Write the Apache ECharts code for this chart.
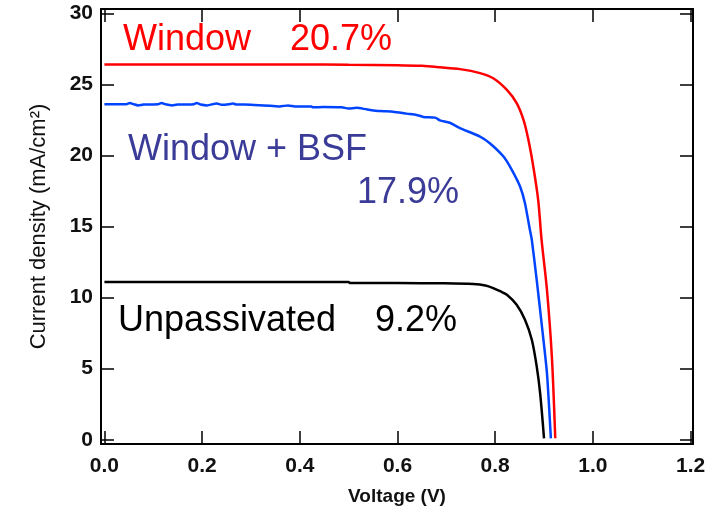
<!DOCTYPE html>
<html>
<head>
<meta charset="utf-8">
<script src="https://cdn.jsdelivr.net/npm/echarts@6/dist/echarts.min.js"></script>
<style>
html,body{margin:0;padding:0;background:#fff;}
#chart{width:721px;height:519px;}
</style>
</head>
<body>
<div id="chart"></div>
<script>
// ---- data ----
const xTicks = [0.0, 0.2, 0.4, 0.6, 0.8, 1.0, 1.2];
const yTicks = [0, 5, 10, 15, 20, 25, 30];

const vWindow = [0, 0.1, 0.2, 0.3, 0.4, 0.5, 0.6, 0.65, 0.687, 0.728, 0.769, 0.796, 0.824, 0.844, 0.858, 0.868, 0.878, 0.888, 0.895, 0.906, 0.916, 0.923];
const jWindow = [26.4, 26.4, 26.4, 26.4, 26.4, 26.38, 26.35, 26.3, 26.2, 26.07, 25.79, 25.43, 24.61, 23.68, 22.5, 21.1, 19.22, 16.88, 14.06, 10.55, 5.86, 0.1];

const vBSF = [0, 0.045, 0.052, 0.060, 0.069, 0.08, 0.11, 0.117, 0.125, 0.138, 0.15, 0.17, 0.183, 0.189, 0.197, 0.21, 0.23, 0.24, 0.255, 0.263, 0.27, 0.3, 0.339, 0.359, 0.376, 0.39, 0.424, 0.427, 0.448, 0.486, 0.5, 0.516, 0.537, 0.564, 0.591, 0.619, 0.639, 0.653, 0.677, 0.687, 0.707, 0.728, 0.769, 0.789, 0.817, 0.834, 0.851, 0.861, 0.871, 0.875, 0.885, 0.895, 0.906, 0.914];
const jBSF = [23.6, 23.6, 23.68, 23.6, 23.52, 23.58, 23.6, 23.68, 23.6, 23.52, 23.58, 23.58, 23.6, 23.68, 23.58, 23.52, 23.66, 23.56, 23.6, 23.65, 23.58, 23.57, 23.5, 23.45, 23.52, 23.45, 23.44, 23.38, 23.41, 23.38, 23.3, 23.35, 23.24, 23.12, 23.08, 22.94, 22.85, 22.71, 22.66, 22.47, 22.3, 21.92, 21.33, 20.86, 19.92, 18.99, 17.81, 16.64, 14.77, 14.06, 11.25, 8.2, 4.69, 0.1];

const vUnpass = [0, 0.1, 0.2, 0.3, 0.4, 0.5, 0.503, 0.6, 0.697, 0.755, 0.78, 0.796, 0.81, 0.824, 0.844, 0.861, 0.875, 0.885, 0.892, 0.900];
const jUnpass = [11.09, 11.09, 11.09, 11.09, 11.09, 11.09, 11.02, 11.02, 11.0, 10.95, 10.85, 10.67, 10.45, 10.2, 9.49, 8.44, 7.03, 5.16, 3.28, 0.1];

const seriesNames = ['Window', 'Window + BSF', 'Unpassivated'];
const efficiencies = ['20.7%', '17.9%', '9.2%'];

function pairs(v, j) { return v.map((x, i) => [x, j[i]]); }

const chart = echarts.init(document.getElementById('chart'), null, {renderer: 'canvas'});
const FONT = '"Liberation Sans", Arial, sans-serif';

const axisLine = {show: true, onZero: false, lineStyle: {color: '#000', width: 2}};
const tickStyle = {color: '#000', width: 1.5};

const option = {
  backgroundColor: '#fff',
  animation: false,
  grid: {left: 101, top: 9, right: 28, bottom: 75, containLabel: false},
  xAxis: [{
    type: 'value', min: -0.007, max: 1.205, position: 'bottom',
    axisLine: axisLine,
    axisTick: {show: true, inside: true, length: 13, lineStyle: tickStyle, customValues: xTicks},
    axisLabel: {show: true, customValues: xTicks, formatter: v => v.toFixed(1), color: '#111', fontFamily: FONT, fontSize: 21, fontWeight: 'bold', margin: 12},
    splitLine: {show: false},
    name: 'Voltage (V)', nameLocation: 'middle', nameGap: 43,
    nameTextStyle: {color: '#111', fontFamily: FONT, fontSize: 19, fontWeight: 'bold'}
  }, {
    type: 'value', min: -0.007, max: 1.205, position: 'top',
    axisLine: axisLine,
    axisTick: {show: true, inside: true, length: 13, lineStyle: tickStyle, customValues: xTicks},
    axisLabel: {show: false},
    splitLine: {show: false}
  }],
  yAxis: [{
    type: 'value', min: -0.3, max: 30.3, position: 'left',
    axisLine: axisLine,
    axisTick: {show: true, inside: true, length: 13, lineStyle: tickStyle, customValues: yTicks},
    axisLabel: {show: true, customValues: yTicks, color: '#111', fontFamily: FONT, fontSize: 21, fontWeight: 'bold', margin: 8},
    splitLine: {show: false},
    name: 'Current density (mA/cm²)', nameLocation: 'middle', nameGap: 51, nameRotate: 90,
    nameTextStyle: {color: '#111', fontFamily: FONT, fontSize: 22}
  }, {
    type: 'value', min: -0.3, max: 30.3, position: 'right',
    axisLine: axisLine,
    axisTick: {show: true, inside: true, length: 13, lineStyle: tickStyle, customValues: yTicks},
    axisLabel: {show: false},
    splitLine: {show: false}
  }],
  series: [
    {name: seriesNames[0], type: 'line', data: pairs(vWindow, jWindow), showSymbol: false, smooth: 0.3,
     lineStyle: {color: '#FF0000', width: 2.5}, itemStyle: {color: '#FF0000'}},
    {name: seriesNames[1], type: 'line', data: pairs(vBSF, jBSF), showSymbol: false, smooth: 0.2,
     lineStyle: {color: '#0044FF', width: 2.5}, itemStyle: {color: '#0044FF'}},
    {name: seriesNames[2], type: 'line', data: pairs(vUnpass, jUnpass), showSymbol: false, smooth: 0.3,
     lineStyle: {color: '#000000', width: 2.5}, itemStyle: {color: '#000'}}
  ],
  graphic: [
    {type: 'text', left: 123, top: 22, style: {text: seriesNames[0], fill: '#FF0000', font: '36px ' + FONT}},
    {type: 'text', left: 290, top: 22, style: {text: efficiencies[0], fill: '#FF0000', font: '36px ' + FONT}},
    {type: 'text', left: 128, top: 132, style: {text: seriesNames[1], fill: '#3B3B98', font: '36px ' + FONT}},
    {type: 'text', left: 357, top: 175, style: {text: efficiencies[1], fill: '#3B3B98', font: '36px ' + FONT}},
    {type: 'text', left: 118, top: 303, style: {text: seriesNames[2], fill: '#000', font: '36px ' + FONT}},
    {type: 'text', left: 375, top: 303, style: {text: efficiencies[2], fill: '#000', font: '36px ' + FONT}}
  ]
};
chart.setOption(option);
</script>
</body>
</html>
